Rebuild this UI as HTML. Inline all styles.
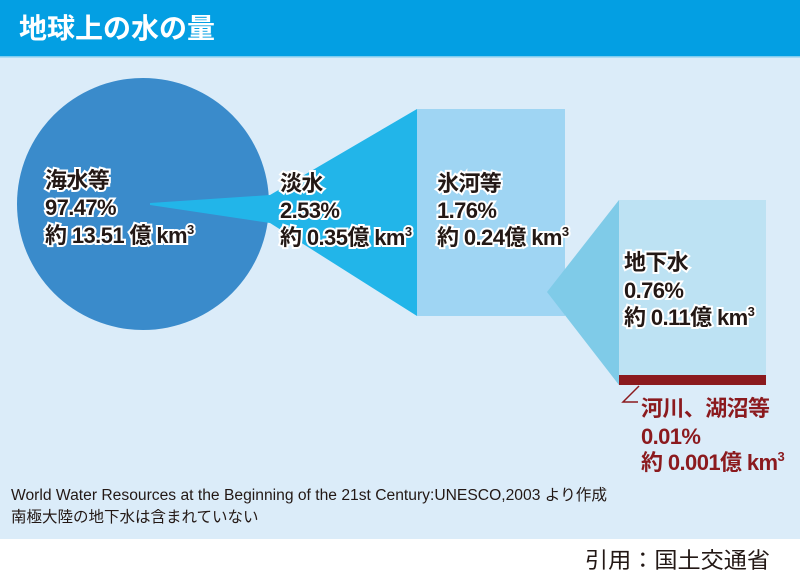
<!DOCTYPE html>
<html><head><meta charset="utf-8"><style>
html,body{margin:0;padding:0;background:#fff;}
svg{display:block;}
text{font-family:"Liberation Sans","Noto Sans CJK JP",sans-serif;}
.l{font-size:22px;font-weight:bold;fill:#231815;stroke:#fff;stroke-width:4px;paint-order:stroke;letter-spacing:-0.6px;}
.r{font-size:22px;font-weight:bold;fill:#8b1a1e;letter-spacing:-0.6px;}
.s{font-size:15.5px;}
</style></head><body>
<svg width="800" height="581" viewBox="0 0 800 581" xmlns="http://www.w3.org/2000/svg">
<rect x="0" y="0" width="800" height="581" fill="#fff"/>
<rect x="0" y="0" width="800" height="57" fill="#039fe3"/>
<rect x="0" y="57" width="800" height="482" fill="#dbecf9"/>
<rect x="0" y="56" width="800" height="1.5" fill="#7fcdf0"/>
<text x="19" y="38" font-size="28" font-weight="bold" fill="#fff">地球上の水の量</text>

<ellipse cx="143" cy="204" rx="126" ry="126" fill="#3a8bcb"/>
<polygon points="150,203 270,195 417,109 417,316 270,223 150,205" fill="#22b5e9"/>
<rect x="417" y="109" width="148" height="207" fill="#9fd5f3"/>
<polygon points="547,292 619,200 619,385" fill="#7fcbe8"/>
<rect x="619" y="200" width="147" height="175" fill="#bde2f3"/>
<rect x="619" y="375" width="147" height="10" fill="#8b1a1e"/>
<polyline points="639,386 623,402 638,402" fill="none" stroke="#8b1a1e" stroke-width="1.5"/>

<text class="l" x="45" y="188">海水等</text>
<text class="l" x="45" y="215">97.47%</text>
<text class="l" x="45" y="243">約 13.51 億 km<tspan font-size="13" dy="-9">3</tspan></text>

<text class="l" x="280" y="191">淡水</text>
<text class="l" x="280" y="218">2.53%</text>
<text class="l" x="280" y="245">約 0.35億 km<tspan font-size="13" dy="-9">3</tspan></text>

<text class="l" x="437" y="191">氷河等</text>
<text class="l" x="437" y="218">1.76%</text>
<text class="l" x="437" y="245">約 0.24億 km<tspan font-size="13" dy="-9">3</tspan></text>

<text class="l" x="624" y="270">地下水</text>
<text class="l" x="624" y="298">0.76%</text>
<text class="l" x="624" y="325">約 0.11億 km<tspan font-size="13" dy="-9">3</tspan></text>

<text class="r" x="641" y="416">河川、湖沼等</text>
<text class="r" x="641" y="444">0.01%</text>
<text class="r" x="641" y="470">約 0.001億 km<tspan font-size="13" dy="-9">3</tspan></text>

<text class="s" x="11" y="500" fill="#231815" textLength="596" lengthAdjust="spacingAndGlyphs">World Water Resources at the Beginning of the 21st Century:UNESCO,2003 より作成</text>
<text class="s" x="11" y="522" fill="#231815">南極大陸の地下水は含まれていない</text>

<text x="585" y="568" font-size="22" fill="#231815" textLength="185" lengthAdjust="spacingAndGlyphs">引用：国土交通省</text>
</svg>
</body></html>
